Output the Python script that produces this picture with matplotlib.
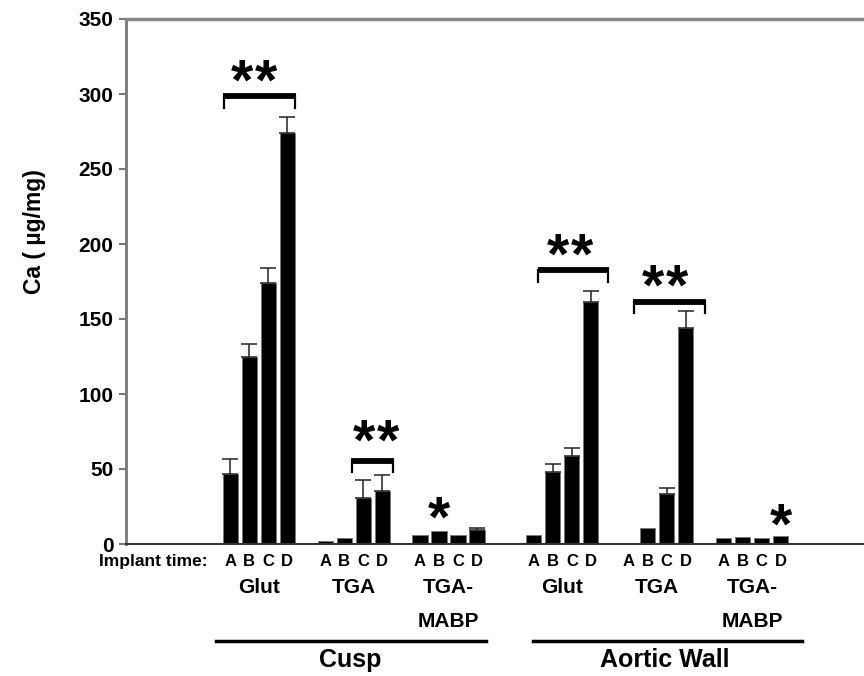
import numpy as np
import matplotlib.pyplot as plt
from matplotlib.transforms import blended_transform_factory

plt.rcParams['font.family'] = ['Liberation Sans', 'DejaVu Sans']

# data
times = ["A", "B", "C", "D"]
groups = ["Glut", "TGA", "TGA-\nMABP", "Glut", "TGA", "TGA-\nMABP"]
tissues = ["Cusp", "Aortic Wall"]

cusp_glut = [47, 125, 174, 274]
cusp_tga = [2, 3.8, 30.5, 35.5]
cusp_mabp = [6, 9, 6, 9.5]
wall_glut = [6, 48, 59, 161.5]
wall_tga = [1, 11, 33.5, 144]
wall_mabp = [3.8, 4.4, 3.8, 5.6]

cusp_glut_err = [9.5, 8.5, 10, 10.5]
cusp_tga_err = [0, 0, 12.5, 10.5]
cusp_mabp_err = [0, 0, 0, 1.5]
wall_glut_err = [0, 5.3, 5, 7.3]
wall_tga_err = [0, 0, 3.8, 11.5]
wall_mabp_err = [0, 0, 0, 0]

values = [cusp_glut, cusp_tga, cusp_mabp, wall_glut, wall_tga, wall_mabp]
errors = [cusp_glut_err, cusp_tga_err, cusp_mabp_err, wall_glut_err, wall_tga_err, wall_mabp_err]
group_start = [0, 5, 10, 16, 21, 26]

# significance brackets: (x0, x1, bracket y, stars x, stars y) -> "**"
brackets = [(-0.4, 3.45, 298.5, 1.26, 311), (6.35, 8.6, 55.5, 7.69, 71),
            (16.2, 19.95, 182.5, 17.89, 195), (21.25, 25.05, 161.5, 22.89, 174)]
single_stars = [(11, 19.5), (29, 15)]
star_size = 41
star_off = 14.5  # star centre above the text baseline, in data units


def star(x, y):
    ax.text(x, y - star_off, "*", ha='center', va='baseline', fontsize=star_size,
            fontweight='bold', zorder=5)


fig = plt.figure(figsize=(8.64, 6.76), dpi=100)
ax = fig.add_axes([126 / 864, 132 / 676, 1 - 126 / 864, 525 / 676])

for vals, errs, start in zip(values, errors, group_start):
    x = start + np.arange(4)
    ax.bar(x, vals, width=0.8, color='black', edgecolor='#777777', linewidth=0.6, zorder=2)
    e = np.array(errs, dtype=float)
    m = e > 0
    if m.any():
        ax.errorbar(x[m], np.array(vals)[m], yerr=[np.zeros(m.sum()), e[m]], fmt='none',
                    ecolor='#222222', elinewidth=1.1, capsize=5.5, capthick=1.1, zorder=3)

for x0, x1, y, xs, ys in brackets:
    ax.plot([x0, x1], [y, y], color='black', lw=4.2, solid_capstyle='butt', zorder=4)
    ax.plot([x0 + 0.04, x0 + 0.04], [y, y - 7.5], color='black', lw=1.6, zorder=4)
    ax.plot([x1 - 0.04, x1 - 0.04], [y, y - 7.5], color='black', lw=1.6, zorder=4)
    star(xs - 0.64, ys)
    star(xs + 0.64, ys)

for x, y in single_stars:
    star(x, y)

ax.set_xlim(-5.5, 33.4)
ax.set_ylim(0, 350)
ax.set_yticks(np.arange(0, 351, 50))
ax.set_xticks([])
ax.tick_params(axis='y', direction='out', length=5, width=1.5, color='#777777',
               labelsize=15, pad=4)
for lab in ax.get_yticklabels():
    lab.set_fontweight('bold')
ax.spines['right'].set_visible(False)
ax.spines['left'].set_color('#777777')
ax.spines['left'].set_linewidth(2)
ax.spines['top'].set_color('#888888')
ax.spines['top'].set_linewidth(2.5)
ax.spines['bottom'].set_color('#333333')
ax.spines['bottom'].set_linewidth(1.5)

fig.text(35 / 864, 1 - 232 / 676, "Ca ( µg/mg)", rotation=90, ha='center', va='center',
         fontsize=16.5, fontweight='bold')

tr = blended_transform_factory(ax.transData, fig.transFigure)
ax.text(-1.2, 0.1627, "Implant time:", transform=tr, ha='right', va='baseline',
        fontsize=12.5, fontweight='bold', clip_on=False)
for start, g in zip(group_start, groups):
    for i, t in enumerate(times):
        ax.text(start + i, 0.1627, t, transform=tr, ha='center', va='baseline',
                fontsize=12, fontweight='bold', clip_on=False)
    lines = g.split("\n")
    ax.text(start + 1.5, 0.1228, lines[0], transform=tr, ha='center', va='baseline',
            fontsize=15, fontweight='bold', clip_on=False)
    if len(lines) > 1:
        ax.text(start + 1.5, 0.073, lines[1], transform=tr, ha='center', va='baseline',
                fontsize=15, fontweight='bold', clip_on=False)

for (x0, x1, xc), name in zip([(-0.73, 13.5, 6.3), (15.94, 30.15, 22.9)], tissues):
    ax.plot([x0, x1], [0.0518, 0.0518], transform=tr, color='black', lw=2.5, clip_on=False)
    ax.text(xc, 0.013, name, transform=tr, ha='center', va='baseline',
            fontsize=18, fontweight='bold', clip_on=False)

fig.savefig("out.png", dpi=100)
